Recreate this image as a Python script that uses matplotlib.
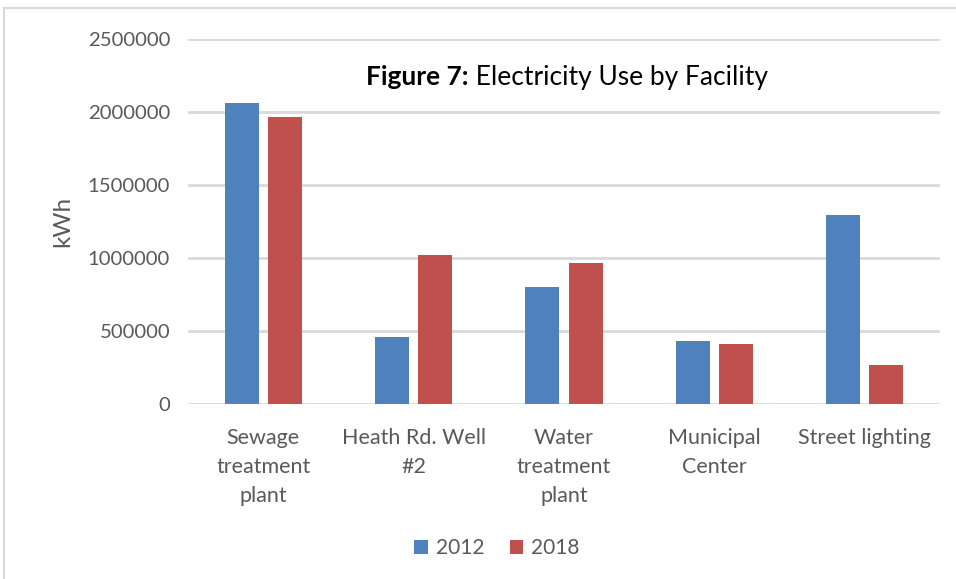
import matplotlib
matplotlib.use("Agg")
import matplotlib.pyplot as plt
import numpy as np
from matplotlib.patches import Rectangle

categories = ["Sewage\ntreatment\nplant", "Heath Rd. Well\n#2", "Water\ntreatment\nplant",
              "Municipal\nCenter", "Street lighting"]
years = ["2012", "2018"]
values_2012 = [2061000, 462000, 804000, 430000, 1292000]
values_2018 = [1964000, 1023000, 968000, 411000, 272000]
yticks = [0, 500000, 1000000, 1500000, 2000000, 2500000]

blue = "#4F81BD"
red = "#C0504D"
grid = "#D9D9D9"
txt = "#595959"
font = "Lato"

fig = plt.figure(figsize=(9.56, 5.79), dpi=100)
W, H = 956, 579
ax = fig.add_axes([188 / W, 1 - 404.3 / H, (940 - 188) / W, (404.3 - 38.7) / H])

x = np.arange(len(categories))
bw = 0.226
off = 0.144
ax.bar(x - off, values_2012, bw, color=blue, label=years[0], zorder=3)
ax.bar(x + off, values_2018, bw, color=red, label=years[1], zorder=3)

ax.set_xlim(-0.5, len(categories) - 0.5)
ax.set_ylim(0, 2500000)
ax.set_yticks(yticks)
ax.set_yticklabels([str(v) for v in yticks], fontsize=14.6, color=txt, family=font)
ax.set_xticks(x)
ax.set_xticklabels(categories, fontsize=15.5, color=txt, family=font, linespacing=1.58)
ax.tick_params(axis="both", length=0)
ax.tick_params(axis="y", pad=13)
ax.tick_params(axis="x", pad=17)
for s in ax.spines.values():
    s.set_visible(False)
ax.grid(axis="y", color=grid, linewidth=2, zorder=0)
ax.set_axisbelow(True)

ax.set_ylabel("kWh", fontsize=17.5, color=txt, family=font, labelpad=10)

r = fig.canvas.get_renderer()
t1 = fig.text(0, 0, "Figure 7:", fontsize=19, fontweight="bold", family=font, color="black",
              transform=None, va="center")
t2 = fig.text(0, 0, " Electricity Use by Facility", fontsize=19, family=font, color="black",
              transform=None, va="center")
w1 = t1.get_window_extent(r).width
w2 = t2.get_window_extent(r).width
cx = 567
x0 = cx - (w1 + w2) / 2
yc = H - 77
t1.set_position((x0, yc))
t2.set_position((x0 + w1, yc))

leg = fig.legend(loc="center", bbox_to_anchor=(497 / W, 1 - 548 / H), ncol=2, frameon=False,
                 prop={"family": font, "size": 15}, handlelength=0.65, handleheight=0.65,
                 handletextpad=0.4, columnspacing=1.2)
for t in leg.get_texts():
    t.set_color(txt)

fig.patches.append(Rectangle((4 / W, -0.1), 1.2, (1 - 8 / H) + 0.1, transform=fig.transFigure,
                             fill=False, edgecolor="#D9D9D9", linewidth=1.5))

fig.savefig("out.png", dpi=100)
